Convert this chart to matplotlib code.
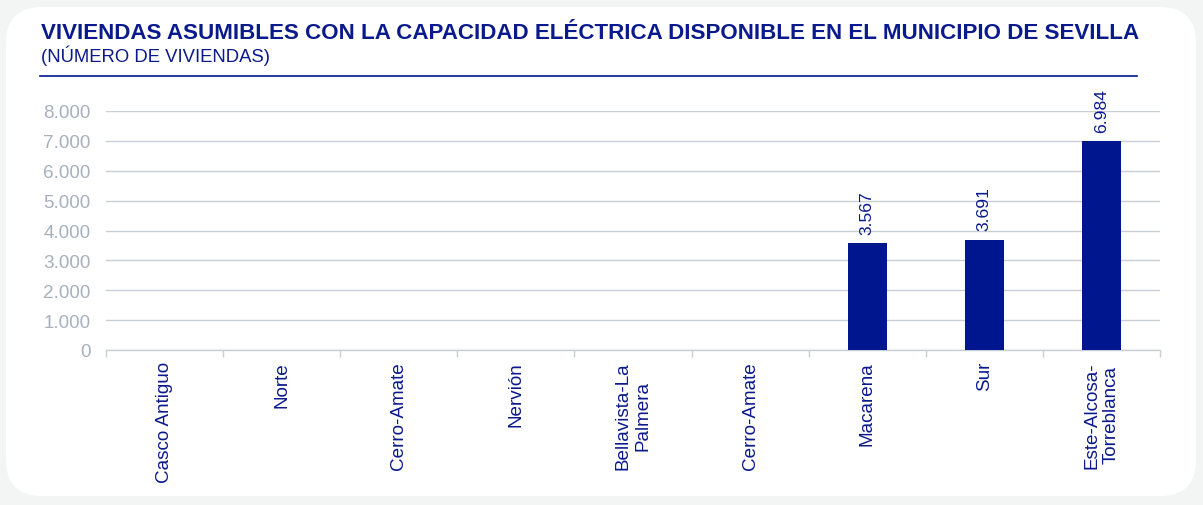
import matplotlib
matplotlib.use("Agg")
import matplotlib.pyplot as plt
from matplotlib.patches import FancyBboxPatch
from matplotlib.lines import Line2D
from matplotlib.ticker import FuncFormatter, MultipleLocator
import numpy as np

# ====== データ ======
distritos = ["Casco Antiguo", "Norte", "Cerro-Amate", "Nervión", "Bellavista-La\nPalmera",
             "Cerro-Amate", "Macarena", "Sur", "Este-Alcosa-\nTorreblanca"]
viviendas = [0, 0, 0, 0, 0, 0, 3567, 3691, 6984]

titulo = "VIVIENDAS ASUMIBLES CON LA CAPACIDAD ELÉCTRICA DISPONIBLE EN EL MUNICIPIO DE SEVILLA"
subtitulo = "(NÚMERO DE VIVIENDAS)"

# ====== 色 ======
azul = "#00168f"
azul_texto = "#0a1a8c"
gris_grid = "#c9cdd6"
gris_ticks = "#a7b0bd"
fondo = "#f3f5f4"

plt.rcParams["font.family"] = ["Liberation Sans", "DejaVu Sans"]

W, H = 1203, 506
fig = plt.figure(figsize=(W / 100, H / 100), dpi=100)
fig.patch.set_facecolor(fondo)

# tarjeta blanca
card = FancyBboxPatch((6 / W, 9 / H), 1190 / W, 489 / H,
                      boxstyle="round,pad=0,rounding_size=0.03",
                      transform=fig.transFigure, facecolor="white", edgecolor="none",
                      mutation_aspect=W / H, zorder=-5)
fig.patches.append(card)

fig.text(41 / W, 1 - 39 / H, titulo, fontsize=16.1, fontweight="bold", color=azul_texto,
         ha="left", va="baseline")
fig.text(41 / W, 1 - 62 / H, subtitulo, fontsize=13.3, color=azul_texto,
         ha="left", va="baseline")
fig.lines.append(Line2D([40 / W, 1137 / W], [1 - 77 / H, 1 - 77 / H],
                        transform=fig.transFigure, color=azul, linewidth=1.2))

ax = fig.add_axes([106 / W, 1 - 351 / H, (1160 - 106) / W, (351 - 112) / H])
ax.set_facecolor("none")

x = np.arange(len(distritos))
bars = ax.bar(x, viviendas, width=0.33, color=azul, zorder=3)

for xi, v in zip(x, viviendas):
    if v > 0:
        ax.annotate(f"{v:,}".replace(",", "."), (xi, v), xytext=(0, 7),
                    textcoords="offset points", rotation=90, ha="center", va="bottom",
                    fontsize=12.6, color=azul_texto)

ax.set_xlim(-0.5, len(distritos) - 0.5)
ax.set_ylim(0, 8000)
ax.yaxis.set_major_locator(MultipleLocator(1000))
ax.yaxis.set_major_formatter(FuncFormatter(lambda v, p: f"{int(v):,}".replace(",", ".")))
ax.grid(axis="y", color=gris_grid, linewidth=1, zorder=0)
ax.set_axisbelow(True)

for s in ["top", "right", "left"]:
    ax.spines[s].set_visible(False)
ax.spines["bottom"].set_color(gris_grid)
ax.spines["bottom"].set_linewidth(1)

ax.set_xticks(x)
ax.set_xticklabels(distritos, rotation=90, ha="center", va="top", fontsize=13.6, color=azul_texto)
ax.set_xticks(np.arange(len(distritos) + 1) - 0.5, minor=True)
ax.tick_params(axis="x", which="major", length=0, pad=8)
ax.tick_params(axis="x", which="minor", length=5, color=gris_grid, width=1)
ax.tick_params(axis="y", length=0, pad=11, labelsize=13.6, labelcolor=gris_ticks)

fig.savefig("out.png", dpi=100, facecolor=fondo)
